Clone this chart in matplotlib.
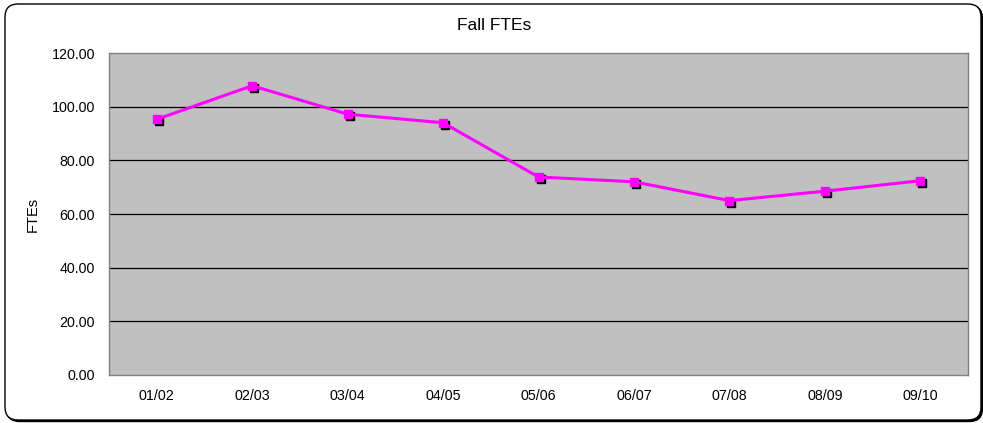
import matplotlib
matplotlib.use("Agg")
import matplotlib.pyplot as plt
import matplotlib.transforms as mtransforms
from matplotlib.patches import FancyBboxPatch

# data
years = ["01/02", "02/03", "03/04", "04/05", "05/06", "06/07", "07/08", "08/09", "09/10"]
ftes = [95.3, 107.8, 97.2, 94.0, 73.8, 72.0, 65.0, 68.5, 72.4]
y_ticks = [0, 20, 40, 60, 80, 100, 120]

plt.rcParams['font.family'] = ['Liberation Sans', 'DejaVu Sans']

W, H = 983, 423
fig = plt.figure(figsize=(W / 100, H / 100), dpi=100)
ax = fig.add_axes([109 / W, 1 - 375 / H, 859 / W, 322 / H])

# rounded chart border with a small shadow at bottom right (inches)
shadow_box = FancyBboxPatch((0.065, 0.015), 9.76, 4.16,
                            boxstyle="round,pad=0,rounding_size=0.13",
                            transform=fig.dpi_scale_trans, facecolor='black',
                            edgecolor='black', linewidth=1.0, zorder=-11)
box = FancyBboxPatch((0.05, 0.03), 9.76, 4.16,
                     boxstyle="round,pad=0,rounding_size=0.13",
                     transform=fig.dpi_scale_trans, facecolor='white',
                     edgecolor='black', linewidth=1.0, zorder=-10)
fig.patches.append(shadow_box)
fig.patches.append(box)

x = list(range(len(years)))
ax.set_facecolor('#c0c0c0')
for t in y_ticks[1:-1]:
    ax.axhline(t, color='black', linewidth=0.9, zorder=1)

# shadow markers offset down-right
shadow = ax.transData + mtransforms.ScaledTranslation(2 / 100, -2 / 100, fig.dpi_scale_trans)
ax.plot(x, ftes, linestyle='none', marker='s', markersize=6, color='black',
        transform=shadow, zorder=2)
ax.plot(x, ftes, color='#ff00ff', linewidth=2.2, marker='s', markersize=6,
        markeredgecolor='#ff00ff', zorder=3)

ax.set_xlim(-0.5, len(years) - 0.5)
ax.set_ylim(0, 120)
ax.set_yticks(y_ticks)
ax.set_yticklabels(["%.2f" % v for v in y_ticks])
ax.set_xticks(x)
ax.set_xticklabels(years)
ax.tick_params(axis='both', length=0, labelsize=10.3)
ax.tick_params(axis='x', pad=10)
ax.tick_params(axis='y', pad=10)
for s in ax.spines.values():
    s.set_color('#808080')
    s.set_linewidth(1)

ax.set_ylabel('FTEs', fontsize=10.5)
ax.yaxis.set_label_coords(40 / W, 1 - 214 / H, transform=fig.transFigure)
fig.text(494 / W, 1 - 26 / H, 'Fall FTEs', ha='center', va='center', fontsize=12.5)

fig.savefig('out.png', dpi=100)
